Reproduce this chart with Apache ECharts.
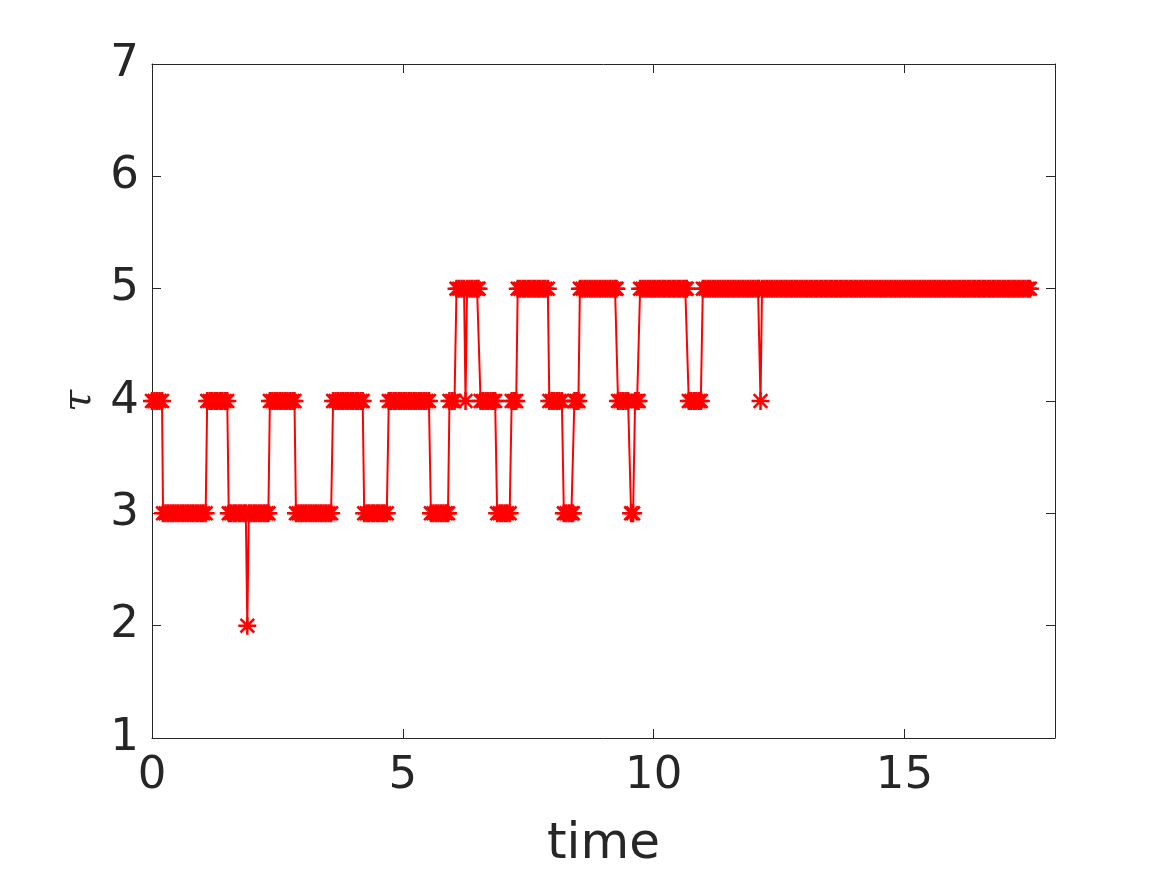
<!DOCTYPE html>
<html>
<head>
<meta charset="utf-8">
<script src="https://cdn.jsdelivr.net/npm/echarts@6/dist/echarts.min.js"></script>
<style>
html,body{margin:0;padding:0;background:#fff;}
#chart{width:1167px;height:875px;}
</style>
</head>
<body>
<div id="chart"></div>
<script>
// time samples
const time = [
  0, 0.05, 0.1, 0.15, 0.2,
  0.22, 0.27, 0.32, 0.37, 0.42, 0.47, 0.52, 0.57, 0.62, 0.67, 0.72, 0.77, 0.82, 0.87, 0.92, 0.97, 1.02, 1.07,
  1.1, 1.15, 1.2, 1.25, 1.3, 1.35, 1.4, 1.45, 1.5,
  1.53, 1.58, 1.63, 1.68, 1.73, 1.78, 1.83, 1.87,
  1.9,
  1.93, 1.98, 2.03, 2.08, 2.13, 2.18, 2.23, 2.28, 2.32,
  2.35, 2.4, 2.45, 2.5, 2.55, 2.6, 2.65, 2.7, 2.75, 2.8, 2.84,
  2.87, 2.92, 2.97, 3.02, 3.07, 3.12, 3.17, 3.22, 3.27, 3.32, 3.37, 3.42, 3.47, 3.52, 3.57,
  3.61, 3.66, 3.71, 3.76, 3.81, 3.86, 3.91, 3.96, 4.01, 4.06, 4.11, 4.16, 4.2,
  4.23, 4.28, 4.33, 4.38, 4.43, 4.48, 4.53, 4.58, 4.63, 4.68,
  4.72, 4.77, 4.82, 4.87, 4.92, 4.97, 5.02, 5.07, 5.12, 5.17, 5.22, 5.27, 5.32, 5.37, 5.42, 5.47, 5.52,
  5.56, 5.61, 5.66, 5.71, 5.76, 5.81, 5.86, 5.9,
  5.93, 5.98, 6.03,
  6.07, 6.12, 6.17, 6.22,
  6.25,
  6.28, 6.33, 6.38, 6.43, 6.48, 6.51,
  6.55, 6.6, 6.65, 6.7, 6.75, 6.8, 6.84,
  6.88, 6.93, 6.98, 7.03, 7.08, 7.13,
  7.17, 7.22, 7.26,
  7.29, 7.34, 7.39, 7.44, 7.49, 7.54, 7.59, 7.64, 7.69, 7.74, 7.79, 7.84, 7.89,
  7.92, 7.97, 8.02, 8.07, 8.12, 8.17,
  8.21, 8.26, 8.31, 8.36, 8.39,
  8.42, 8.46, 8.5,
  8.53, 8.58, 8.63, 8.68, 8.73, 8.78, 8.83, 8.88, 8.93, 8.98, 9.03, 9.08, 9.13, 9.18, 9.23, 9.26,
  9.29, 9.34, 9.39, 9.44, 9.49,
  9.55, 9.59,
  9.63, 9.67, 9.7,
  9.73, 9.78, 9.83, 9.88, 9.93, 9.98, 10.03, 10.08, 10.13, 10.18, 10.23, 10.28, 10.33, 10.38, 10.43, 10.48, 10.53, 10.58, 10.63, 10.66,
  10.7, 10.75, 10.8, 10.85, 10.9, 10.94,
  10.98, 11.03, 11.08, 11.13, 11.18, 11.23, 11.28, 11.33, 11.38, 11.43, 11.48, 11.53, 11.58, 11.63, 11.68, 11.73, 11.78, 11.83, 11.88, 11.93, 11.98, 12.03, 12.08, 12.1,
  12.13,
  12.16, 12.21, 12.26, 12.31, 12.36, 12.41, 12.46, 12.51, 12.56, 12.61,
  12.66, 12.71, 12.76, 12.81, 12.86, 12.91, 12.96, 13.01, 13.06, 13.11,
  13.16, 13.21, 13.26, 13.31, 13.36, 13.41, 13.46, 13.51, 13.56, 13.61,
  13.66, 13.71, 13.76, 13.81, 13.86, 13.91, 13.96, 14.01, 14.06, 14.11,
  14.16, 14.21, 14.26, 14.31, 14.36, 14.41, 14.46, 14.51, 14.56, 14.61,
  14.66, 14.71, 14.76, 14.81, 14.86, 14.91, 14.96, 15.01, 15.06, 15.11,
  15.16, 15.21, 15.26, 15.31, 15.36, 15.41, 15.46, 15.51, 15.56, 15.61,
  15.66, 15.71, 15.76, 15.81, 15.86, 15.91, 15.96, 16.01, 16.06, 16.11,
  16.16, 16.21, 16.26, 16.31, 16.36, 16.41, 16.46, 16.51, 16.56, 16.61,
  16.66, 16.71, 16.76, 16.81, 16.86, 16.91, 16.96, 17.01, 17.06, 17.11,
  17.16, 17.21, 17.26, 17.31, 17.36, 17.41, 17.46, 17.5
];
// tau value at each sample (same line layout as time)
const tau = [
  4, 4, 4, 4, 4,
  3, 3, 3, 3, 3, 3, 3, 3, 3, 3, 3, 3, 3, 3, 3, 3, 3, 3,
  4, 4, 4, 4, 4, 4, 4, 4, 4,
  3, 3, 3, 3, 3, 3, 3, 3,
  2,
  3, 3, 3, 3, 3, 3, 3, 3, 3,
  4, 4, 4, 4, 4, 4, 4, 4, 4, 4, 4,
  3, 3, 3, 3, 3, 3, 3, 3, 3, 3, 3, 3, 3, 3, 3,
  4, 4, 4, 4, 4, 4, 4, 4, 4, 4, 4, 4, 4,
  3, 3, 3, 3, 3, 3, 3, 3, 3, 3,
  4, 4, 4, 4, 4, 4, 4, 4, 4, 4, 4, 4, 4, 4, 4, 4, 4,
  3, 3, 3, 3, 3, 3, 3, 3,
  4, 4, 4,
  5, 5, 5, 5,
  4,
  5, 5, 5, 5, 5, 5,
  4, 4, 4, 4, 4, 4, 4,
  3, 3, 3, 3, 3, 3,
  4, 4, 4,
  5, 5, 5, 5, 5, 5, 5, 5, 5, 5, 5, 5, 5,
  4, 4, 4, 4, 4, 4,
  3, 3, 3, 3, 3,
  4, 4, 4,
  5, 5, 5, 5, 5, 5, 5, 5, 5, 5, 5, 5, 5, 5, 5, 5,
  4, 4, 4, 4, 4,
  3, 3,
  4, 4, 4,
  5, 5, 5, 5, 5, 5, 5, 5, 5, 5, 5, 5, 5, 5, 5, 5, 5, 5, 5, 5,
  4, 4, 4, 4, 4, 4,
  5, 5, 5, 5, 5, 5, 5, 5, 5, 5, 5, 5, 5, 5, 5, 5, 5, 5, 5, 5, 5, 5, 5, 5,
  4,
  5, 5, 5, 5, 5, 5, 5, 5, 5, 5,
  5, 5, 5, 5, 5, 5, 5, 5, 5, 5,
  5, 5, 5, 5, 5, 5, 5, 5, 5, 5,
  5, 5, 5, 5, 5, 5, 5, 5, 5, 5,
  5, 5, 5, 5, 5, 5, 5, 5, 5, 5,
  5, 5, 5, 5, 5, 5, 5, 5, 5, 5,
  5, 5, 5, 5, 5, 5, 5, 5, 5, 5,
  5, 5, 5, 5, 5, 5, 5, 5, 5, 5,
  5, 5, 5, 5, 5, 5, 5, 5, 5, 5,
  5, 5, 5, 5, 5, 5, 5, 5, 5, 5,
  5, 5, 5, 5, 5, 5, 5, 5
];
const xTicks = [0, 5, 10, 15];
const yTicks = [1, 2, 3, 4, 5, 6, 7];

const points = time.map((t, i) => [t, tau[i]]);

// MATLAB-like '*' marker: plus + cross, drawn as filled thin bars
const asterisk = 'path://M0 43H100V57H0Z M43 0H57V100H43Z ' +
  'M17 7L93 83L83 93L7 17Z M83 7L93 17L17 93L7 83Z';

const axisColor = '#262626';
const tickFont = 'DejaVu Sans';

const chart = echarts.init(document.getElementById('chart'), null, {renderer: 'canvas'});
const baseX = {
  type: 'value', min: 0, max: 18, interval: 5,
  splitLine: {show: false},
  axisLine: {show: true, onZero: false, lineStyle: {color: axisColor, width: 1}},
  axisTick: {show: true, inside: true, length: 9, lineStyle: {color: axisColor, width: 1}}
};
const baseY = {
  type: 'value', min: 1, max: 7, interval: 1,
  splitLine: {show: false},
  axisLine: {show: true, onZero: false, lineStyle: {color: axisColor, width: 1}},
  axisTick: {show: true, inside: true, length: 9, lineStyle: {color: axisColor, width: 1}}
};
chart.setOption({
  animation: false,
  backgroundColor: '#ffffff',
  grid: {left: 152, right: 112, top: 64, bottom: 134, containLabel: false},
  xAxis: [
    Object.assign({}, baseX, {
      position: 'bottom',
      axisLabel: {
        show: true, fontSize: 45, fontFamily: tickFont, color: axisColor, margin: 16,
        showMaxLabel: false,
        formatter: v => xTicks.includes(v) ? String(v) : ''
      },
      name: 'time', nameLocation: 'middle', nameGap: 82,
      nameTextStyle: {fontSize: 50, fontFamily: tickFont, color: axisColor}
    }),
    Object.assign({}, baseX, {position: 'top', axisLabel: {show: false}})
  ],
  yAxis: [
    Object.assign({}, baseY, {
      position: 'left',
      axisLabel: {
        show: true, fontSize: 45, fontFamily: tickFont, color: axisColor, margin: 13,
        formatter: v => yTicks.includes(v) ? String(v) : ''
      },
      name: 'τ', nameLocation: 'middle', nameGap: 52, nameRotate: 90,
      nameTextStyle: {fontSize: 40, fontFamily: 'DejaVu Serif', fontStyle: 'italic', color: axisColor}
    }),
    Object.assign({}, baseY, {position: 'right', axisLabel: {show: false}})
  ],
  series: [{
    type: 'line',
    data: points,
    xAxisIndex: 0, yAxisIndex: 0,
    showAllSymbol: true,
    symbol: asterisk,
    symbolSize: 18,
    itemStyle: {color: '#ff0000'},
    lineStyle: {color: '#ff0000', width: 2},
    z: 3
  }]
});
</script>
</body>
</html>
